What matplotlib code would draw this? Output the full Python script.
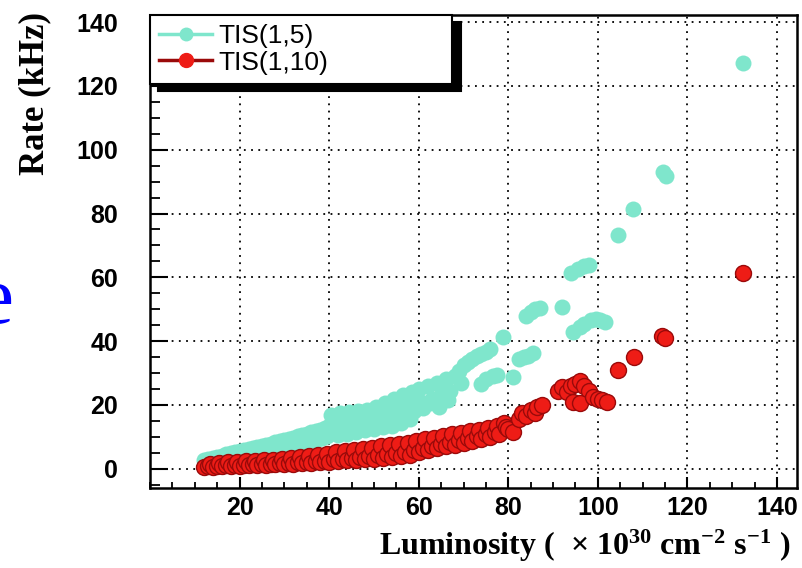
import matplotlib
matplotlib.use("Agg")
import matplotlib.pyplot as plt
from matplotlib.lines import Line2D
from matplotlib.ticker import MultipleLocator

plt.rcParams['font.family'] = ['Liberation Sans', 'DejaVu Sans']
plt.rcParams['mathtext.fontset'] = 'custom'
plt.rcParams['mathtext.rm'] = 'Liberation Serif:bold'
plt.rcParams['mathtext.default'] = 'rm'

TEAL = '#7fe6cc'
RED = '#ee1c16'
DARK_RED = '#9a0a0a'

# TIS(1,5) — luminosity vs rate
tis5_x = [12, 13, 14, 15, 16, 17, 18, 19, 20, 21, 22, 23, 24, 25, 26, 27, 28, 29, 30,
          31, 32, 33, 34, 35, 36, 37, 38, 39, 40,
          12.5, 13.5, 14.5, 15.5, 16.5, 17.5, 18.5, 19.5, 20.5, 21.5, 22.5, 23.5, 24.5,
          25.5, 26.5, 27.5, 28.5, 29.5, 30.5, 31.5, 32.5, 33.5, 34.5, 35.5, 36.5, 37.5,
          38.5, 39.5,
          40.5, 41, 41.5, 42, 42.5, 43, 43.5, 44, 44.5, 45, 45.5, 46, 46.5, 47, 47.5, 48,
          48.5, 49, 49.5, 50, 50.5, 51, 51.5, 52, 52.5, 53, 53.5, 54, 54.5, 55, 55.5, 56,
          56.5, 57, 57.5, 58, 58.5, 59, 60, 60.5, 61, 62, 62.5, 63, 64, 64.5, 65, 66, 66.5,
          67, 68, 69, 70, 71, 72, 73, 74, 75, 76, 78.8,
          69.5, 74, 75, 76.5, 77.5, 81, 82.5, 83.5, 84.5, 85.5, 84, 85, 86, 87, 92,
          94, 95.5, 97, 98, 94.5, 96, 97, 98.5, 99.5, 100.5, 101.5,
          104.5, 107.8, 114.5, 115.3, 132.3]
tis5_y = [2.6, 3.0, 3.3, 3.8, 4.1, 4.5, 4.9, 5.2, 5.5, 5.9, 6.2, 6.6, 6.9, 7.2, 7.6, 7.9, 8.3,
          8.6, 9.0, 9.4, 9.8, 10.2, 10.6, 11.0, 11.4, 11.8, 12.3, 12.8, 13.4,
          1.5, 1.8, 2.0, 2.3, 2.6, 2.9, 3.1, 3.4, 3.7, 4.0, 4.3, 4.6, 4.9, 5.2, 5.5, 5.8,
          6.1, 6.4, 6.7, 7.0, 7.4, 7.8, 8.2, 8.6, 9.0, 9.4, 9.8, 10.4,
          17, 12, 15, 10.5, 17.5, 13, 15.5, 11, 17.8, 13.5, 16, 11.5, 18.2, 14, 16.5, 12,
          18.5, 14.5, 17, 12.5, 19.5, 15, 17.5, 13, 20.5, 15.5, 18, 13.5, 22, 16, 19, 14.5,
          23, 17, 20, 15.5, 24, 18, 25, 21, 19, 26, 20.5, 22, 27, 19.5, 23, 28, 21.5,
          24.5, 29, 30.5, 32.5, 33.5, 34.5, 35.5, 36, 36.5, 37.5, 41.3,
          27, 26.5, 28, 29, 29.5, 28.8, 34.5, 35, 35.5, 36.2, 48, 49, 50, 50.5, 50.8,
          61.5, 62.5, 63.5, 64, 43, 44.5, 45.5, 46.5, 47, 46.5, 46,
          73.3, 81.5, 93, 91.7, 127.3]

# TIS(1,10)
tis10_x = [12, 13, 13.5, 14, 15, 15.5, 16, 17, 17.5, 18, 19, 19.5, 20, 21, 21.5, 22, 23, 23.5,
           24, 25, 25.5, 26, 27, 27.5, 28, 29, 29.5, 30, 31, 31.5, 32, 33, 33.5, 34, 35, 35.5,
           36, 37, 37.5, 38, 39, 39.5, 40, 41, 41.5, 42, 43, 43.5, 44, 45, 45.5, 46, 47, 47.5,
           48, 49, 49.5, 50, 51, 51.5, 52, 53, 53.5, 54, 55, 55.5, 56, 57, 57.5, 58, 59, 59.5,
           60, 61, 61.5, 62, 63, 63.5, 64, 65, 65.5, 66, 67, 67.5, 68, 69, 69.5, 70, 71, 71.5,
           72, 73, 73.5, 74, 75, 75.5, 76, 77, 77.5, 78, 79, 79.5, 80, 81,
           82.5, 83, 84, 85, 86, 86.5, 87.5,
           91, 92, 93, 94, 95, 96, 97, 98, 94.5, 96, 99, 100, 101, 102,
           104.5, 108, 114.3, 115, 132.3]
tis10_y = [0.6, 0.8, 1.6, 0.7, 1.0, 1.9, 0.8, 1.1, 2.0, 0.9, 1.2, 2.2, 1.0, 1.3, 2.4, 1.1, 1.4,
           2.5, 1.2, 1.5, 2.7, 1.3, 1.6, 2.9, 1.4, 1.7, 3.1, 1.5, 1.9, 3.3, 1.6, 2.0, 3.6, 1.7,
           2.1, 3.9, 1.8, 2.3, 4.2, 2.0, 2.5, 4.6, 2.2, 3.0, 5.2, 2.4, 3.2, 5.5, 2.6, 3.5, 5.8,
           2.8, 3.8, 6.2, 3.0, 4.0, 6.6, 3.2, 4.3, 7.0, 3.4, 4.6, 7.4, 3.7, 5.0, 7.8, 4.0, 5.4,
           8.2, 4.4, 6.0, 8.8, 5.2, 6.6, 9.3, 5.8, 7.2, 9.8, 6.4, 7.8, 10.3, 7.0, 8.4, 10.8,
           7.6, 9.0, 11.3, 8.2, 9.6, 11.8, 8.8, 10.2, 12.3, 9.4, 10.8, 12.8, 10.0, 11.5, 13.4,
           11.0, 14.5, 13.0, 12.5, 11.5,
           15.5, 17.5, 16.5, 18.5, 17.5, 19.5, 20,
           24.5, 25.5, 24, 26, 26.5, 27.5, 26, 24.5, 21, 20.5, 22.5, 22, 21.5, 20.8,
           31, 35, 41.6, 41, 61.3]

x_ticks = [20, 40, 60, 80, 100, 120, 140]
y_ticks = [0, 20, 40, 60, 80, 100, 120, 140]

fig = plt.figure(figsize=(8.02, 5.68), dpi=100)
ax = fig.add_axes([0.187, 0.141, 0.807, 0.833])

ax.plot(tis5_x, tis5_y, 'o', color=TEAL, ms=11.5, mew=0, zorder=3)
ax.plot(tis10_x, tis10_y, 'o', color=RED, mec=DARK_RED, mew=1, ms=11.5, zorder=4)

ax.set_xlim(0, 144.5)
ax.set_ylim(-6, 142.3)
ax.set_xticks(x_ticks)
ax.set_yticks(y_ticks)
ax.xaxis.set_minor_locator(MultipleLocator(5))
ax.yaxis.set_minor_locator(MultipleLocator(5))
ax.grid(True, which='major', color='black', linestyle=(0, (1, 3)), linewidth=1.3)
ax.set_axisbelow(True)

ax.tick_params(axis='x', which='major', direction='in', length=8, width=1.5, pad=6, labelsize=18)
ax.tick_params(axis='x', which='minor', direction='in', length=4.5, width=1.3)
ax.tick_params(axis='y', which='major', direction='in', length=13, width=1.5, pad=23, labelsize=18)
ax.tick_params(axis='y', which='minor', direction='in', length=7, width=1.3)
for lbl in ax.get_xticklabels() + ax.get_yticklabels():
    lbl.set_fontweight('bold')
for sp in ax.spines.values():
    sp.set_linewidth(1.8)

ax.set_ylabel('Rate (kHz)', fontsize=25, fontweight='bold', family='Liberation Serif', loc='top')
ax.yaxis.set_label_coords(-0.152, 1.006)
ax.set_xlabel(r'Luminosity (  $\times$ 10$^{30}$ cm$^{-2}$ s$^{-1}$ )', fontsize=23,
              fontweight='bold', family='Liberation Serif', loc='right')
ax.xaxis.set_label_coords(0.989, -0.085)

handles = [
    Line2D([], [], color=TEAL, lw=2.5, marker='o', ms=10, mew=0, label='TIS(1,5)'),
    Line2D([], [], color=DARK_RED, lw=2.5, marker='o', ms=10, mfc=RED, mec=RED, label='TIS(1,10)'),
]
leg = ax.legend(handles=handles, loc='upper left', bbox_to_anchor=(0, 0.873, 0.467, 0.127),
                mode='expand', borderaxespad=0, fancybox=False, edgecolor='black', framealpha=1,
                fontsize=19, handlelength=2.0, handletextpad=0.25, borderpad=0.35,
                labelspacing=0.1, shadow={'ox': 6, 'oy': -5, 'color': 'black', 'alpha': 1})
leg.get_frame().set_linewidth(1.5)
leg.set_zorder(6)

# clipped blue letter at the left margin
fig.text(0.017, 0.431, 'e', ha='right', va='baseline', fontsize=60, color='blue',
         family='Liberation Serif')

fig.savefig('out.png', dpi=100)
